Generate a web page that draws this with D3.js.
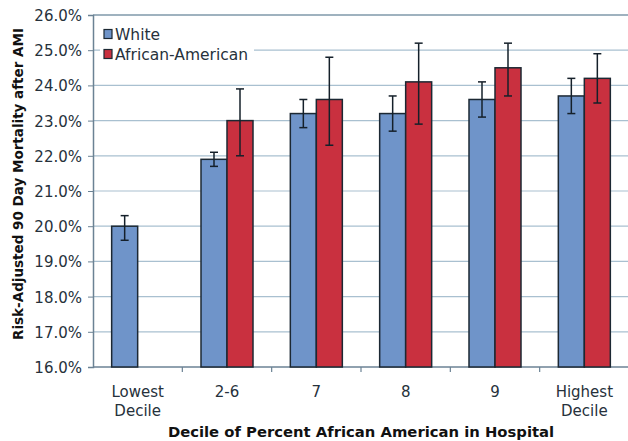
<!DOCTYPE html>
<html>
<head>
<meta charset="utf-8">
<script src="https://cdn.jsdelivr.net/npm/d3@7"></script>
<style>
  html, body { margin: 0; padding: 0; background: #fff; }
  svg { display: block; font-family: "DejaVu Sans", Verdana, sans-serif; }
</style>
</head>
<body>
<svg id="chart" width="628" height="441"></svg>
<script>
// Risk-adjusted 90-day mortality after AMI by hospital decile of % African American patients
const categories = [["Lowest", "Decile"], ["2-6"], ["7"], ["8"], ["9"], ["Highest", "Decile"]];
const seriesNames = ["White", "African-American"];
const whiteValues = [20.0, 21.9, 23.2, 23.2, 23.6, 23.7];
const whiteLow    = [19.6, 21.7, 22.8, 22.7, 23.1, 23.2];
const whiteHigh   = [20.3, 22.1, 23.6, 23.7, 24.1, 24.2];
const blackValues = [null, 23.0, 23.6, 24.1, 24.5, 24.2];
const blackLow    = [null, 22.0, 22.3, 22.9, 23.7, 23.5];
const blackHigh   = [null, 23.9, 24.8, 25.2, 25.2, 24.9];
const yTicks = [16, 17, 18, 19, 20, 21, 22, 23, 24, 25, 26];

const colors = ["#6f94c9", "#c9303f"];
const svg = d3.select("#chart");

const plotLeft = 93, plotRight = 629, plotTop = 15, plotBottom = 367;

const x = d3.scaleBand().domain(d3.range(categories.length)).range([plotLeft, plotRight]).paddingInner(0).paddingOuter(0);
const y = d3.scaleLinear().domain([16, 26]).range([plotBottom, plotTop]);
const barW = 26;

// horizontal gridlines
svg.append("g").selectAll("line").data(yTicks.slice(1)).join("line")
  .attr("x1", plotLeft).attr("x2", plotRight)
  .attr("y1", d => y(d)).attr("y2", d => y(d))
  .attr("stroke", d => d === 26 ? "#7f98aa" : "#a9c0d0")
  .attr("stroke-width", d => d === 26 ? 1.5 : 1.2);

// y axis
const yAxis = d3.axisLeft(y).tickValues(yTicks).tickSize(5).tickFormat(d => d.toFixed(1) + "%");
const gy = svg.append("g").attr("transform", `translate(${plotLeft},0)`).call(yAxis);
gy.select(".domain").attr("stroke", "#6b8294").attr("stroke-width", 1.5);
gy.selectAll(".tick line").attr("stroke", "#6b8294");
gy.selectAll(".tick text").attr("x", -11).attr("dy", "0.36em")
  .attr("font-size", 15).attr("font-family", "DejaVu Sans").attr("fill", "#26313b");

// x axis baseline with ticks between categories
svg.append("line").attr("x1", plotLeft).attr("x2", plotRight).attr("y1", plotBottom).attr("y2", plotBottom)
  .attr("stroke", "#6b8294").attr("stroke-width", 1.5);
svg.append("g").selectAll("line").data(d3.range(1, categories.length + 1)).join("line")
  .attr("x1", d => plotLeft + d * x.bandwidth()).attr("x2", d => plotLeft + d * x.bandwidth())
  .attr("y1", plotBottom).attr("y2", plotBottom + 5)
  .attr("stroke", "#6b8294").attr("stroke-width", 1.2);

// bars
const bars = [];
categories.forEach((c, i) => {
  const cx = x(i) + x.bandwidth() / 2;
  bars.push({ i, s: 0, v: whiteValues[i], lo: whiteLow[i], hi: whiteHigh[i], x0: cx - barW });
  if (blackValues[i] != null)
    bars.push({ i, s: 1, v: blackValues[i], lo: blackLow[i], hi: blackHigh[i], x0: cx });
});

svg.append("g").selectAll("rect").data(bars).join("rect")
  .attr("x", d => d.x0).attr("width", barW)
  .attr("y", d => y(d.v)).attr("height", d => y(16) - y(d.v))
  .attr("fill", d => colors[d.s])
  .attr("stroke", "#1c2833").attr("stroke-width", 1.5);

// error bars
const eg = svg.append("g").attr("stroke", "#15202a").attr("stroke-width", 1.5);
bars.forEach(d => {
  const cx = d.x0 + barW / 2;
  eg.append("line").attr("x1", cx).attr("x2", cx).attr("y1", y(d.hi)).attr("y2", y(d.lo));
  eg.append("line").attr("x1", cx - 4).attr("x2", cx + 4).attr("y1", y(d.hi)).attr("y2", y(d.hi));
  eg.append("line").attr("x1", cx - 4).attr("x2", cx + 4).attr("y1", y(d.lo)).attr("y2", y(d.lo));
});

// category labels
const xl = svg.append("g").attr("font-size", 15).attr("fill", "#26313b").attr("text-anchor", "middle");
categories.forEach((lines, i) => {
  const t = xl.append("text").attr("x", x(i) + x.bandwidth() / 2).attr("y", 397);
  lines.forEach((s, k) => t.append("tspan").attr("x", x(i) + x.bandwidth() / 2).attr("dy", k ? 18.5 : 0).text(s));
});

// axis titles
svg.append("text").attr("x", (plotLeft + plotRight) / 2).attr("y", 437)
  .attr("text-anchor", "middle").attr("font-size", 14.8).attr("font-weight", "bold").attr("fill", "#111")
  .text("Decile of Percent African American in Hospital");
svg.append("text").attr("transform", "translate(23,184) rotate(-90)")
  .attr("text-anchor", "middle").attr("font-size", 13.5).attr("font-weight", "bold").attr("fill", "#111")
  .text("Risk-Adjusted 90 Day Mortality after AMI");

// legend
const lg = svg.append("g");
lg.append("rect").attr("x", 100).attr("y", 22).attr("width", 154).attr("height", 42).attr("fill", "#fff");
seriesNames.forEach((n, k) => {
  const cy = 34 + k * 20;
  lg.append("rect").attr("x", 104).attr("y", cy - 4.5).attr("width", 8).attr("height", 9)
    .attr("fill", colors[k]).attr("stroke", "#1c2833").attr("stroke-width", 1.2);
  lg.append("text").attr("x", 115).attr("y", cy).attr("dy", "0.36em")
    .attr("font-size", 15.5).attr("fill", "#26313b").text(n);
});
</script>
</body>
</html>
